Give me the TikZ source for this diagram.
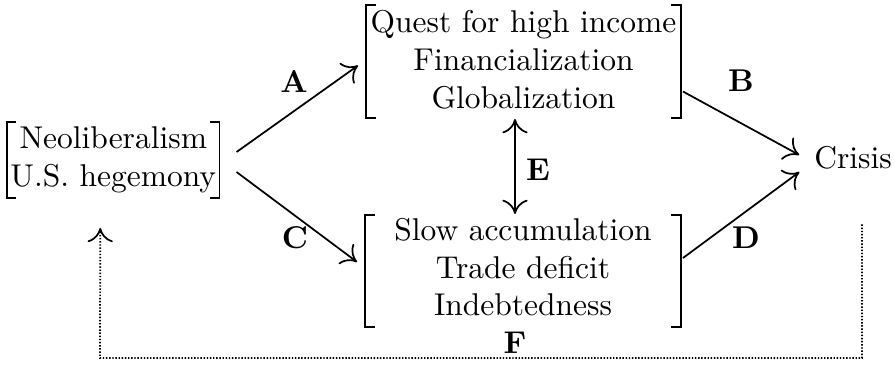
\documentclass[tikz,border=0pt]{standalone}
\usepackage{calc}
\usetikzlibrary{arrows.meta,calc}
\begin{document}
\begin{tikzpicture}[x=0.3175pt,y=-0.3175pt,line width=0.55pt,
  >={To[length=4.5pt,width=8pt]},
  box/.style={inner sep=0pt,outer sep=0pt,align=center},
  brk/.style={line width=0.6pt},
  lab/.style={font=\bfseries},
  conn/.style={->},
  fb/.style={->,dash pattern=on 0.45pt off 0.55pt}]
\useasboundingbox (0,0) rectangle (894,376);
\node[box,minimum width=67.5pt,minimum height=24.1pt] (L) at (113.25,160) {Neoliberalism\\U.S. hegemony};
\node[box,minimum width=100pt,minimum height=35.9pt,text depth=1.3pt] (T) at (523.5,61.5) {Quest for high income\\Financialization\\Globalization};
\node[box,minimum width=100.3pt,minimum height=35.6pt,text depth=2.5pt] (Bo) at (523,271) {Slow accumulation\\Trade deficit\\Indebtedness};
\node[box] (K) at (853,158) {Crisis};
\foreach \n in {L,T,Bo}{
  \draw[brk] ($(\n.north west)+(9.5,0)$) -- (\n.north west) -- (\n.south west) -- ($(\n.south west)+(9.5,0)$);
  \draw[brk] ($(\n.north east)+(-9.5,0)$) -- (\n.north east) -- (\n.south east) -- ($(\n.south east)+(-9.5,0)$);
}
\draw[conn] ($(L.east)+(17,-8)$) -- ($(T.west)+(-8,4)$);
\draw[conn] ($(L.east)+(17,12)$) -- ($(Bo.west)+(-8,-9)$);
\draw[conn] ($(T.east)+(2,30)$) -- ($(K.west)+(-15,-3)$);
\draw[conn] ($(Bo.east)+(2,-13)$) -- ($(K.west)+(-15,14)$);
\draw[<->] ($(T.south)+(-8.5,1)$) -- ($(Bo.north)+(-8,-1)$);
\coordinate (f1) at ($(K.south)+(9,55)$);
\coordinate (f2) at ($(L.south)+(-13,30)$);
\draw[fb] (f1) |- (100,358) -- (f2);
\node[lab] (la) at (294,81) {A};
\node[lab] (lc) at (295,238) {C};
\node[lab] (lb) at (741,81) {B};
\node[lab] (ld) at (746,238) {D};
\node[lab] (le) at (538,170) {E};
\node[lab] (lf) at (515,343) {F};
\end{tikzpicture}
\end{document}
